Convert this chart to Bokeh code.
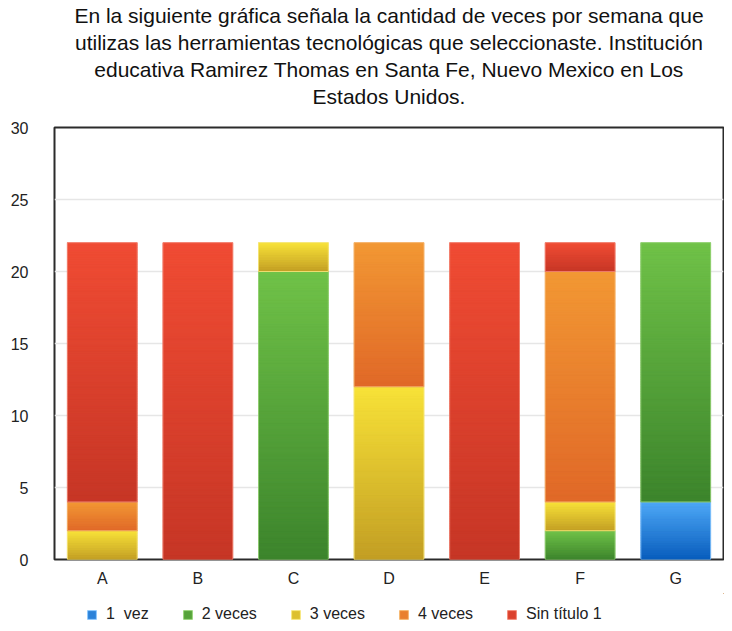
from bokeh.plotting import figure
from bokeh.models import ColumnDataSource, Legend, LegendItem, SingleIntervalTicker, Title
from bokeh.layouts import column
from bokeh.embed import file_html
from bokeh.resources import INLINE

title_lines = [
    "En la siguiente gráfica señala la cantidad de veces por semana que",
    "utilizas las herramientas tecnológicas que seleccionaste. Institución",
    "educativa Ramirez Thomas en Santa Fe, Nuevo Mexico en Los",
    "Estados Unidos.",
]
categories = ["A", "B", "C", "D", "E", "F", "G"]
series_names = ["1  vez", "2 veces", "3 veces", "4 veces", "Sin título 1"]
vez1 = [0, 0, 0, 0, 0, 0, 4]
veces2 = [0, 0, 20, 0, 0, 2, 18]
veces3 = [2, 0, 2, 12, 0, 2, 0]
veces4 = [2, 0, 0, 10, 0, 16, 0]
sin_titulo = [18, 22, 0, 0, 22, 2, 0]
series_values = [vez1, veces2, veces3, veces4, sin_titulo]

# (top colour, bottom colour, edge colour)
palette = [
    ((78, 168, 246), (8, 92, 188), "#8cc8ff"),
    ((112, 194, 72), (60, 132, 44), "#9ad67a"),
    ((248, 226, 56), (194, 158, 36), "#f8e880"),
    ((242, 152, 52), (224, 104, 40), "#f6b870"),
    ((240, 76, 52), (198, 54, 38), "#f48a78"),
]

FONT = "Liberation Sans"

p = figure(
    x_range=categories, y_range=(0, 30),
    width=724, height=593,
    output_backend="svg", toolbar_location=None,
    min_border_left=54, min_border_right=1, min_border_bottom=34, min_border_top=126,
)
p.title.visible = False

# spacer between the title block and the frame
p.add_layout(Title(text=" ", text_font=FONT, text_font_size="13px", standoff=2), "above")
for line in reversed(title_lines):
    t = Title(text=line, align="center", text_font=FONT, text_font_size="21px",
              text_font_style="normal", text_color="#111111", standoff=2)
    p.add_layout(t, "above")

bar_w = 0.73
base = [0.0] * len(categories)

def mix(c1, c2, t):
    return "#%02x%02x%02x" % tuple(int(round(a + (b - a) * t)) for a, b in zip(c1, c2))

for name, vals, (ctop, cbot, edge) in zip(series_names, series_values, palette):
    sx, sb, st = [], [], []
    gx, gb, gt, gc = [], [], [], []
    for i, v in enumerate(vals):
        b0 = base[i]
        if v > 0:
            sx.append(categories[i]); sb.append(b0); st.append(b0 + v)
            n = max(6, int(round(v * 6)))
            for k in range(n):
                lo = b0 + v * k / n
                hi = b0 + v * (k + 1) / n
                tt = (k + 0.5) / n
                gx.append(categories[i]); gb.append(lo); gt.append(hi)
                gc.append(mix(cbot, ctop, tt))
        base[i] = b0 + v
    seg = ColumnDataSource(dict(x=sx, bottom=sb, top=st))
    p.vbar(x="x", bottom="bottom", top="top", width=bar_w, source=seg,
           fill_color=mix(cbot, ctop, 0.5), line_color=None)
    strips = ColumnDataSource(dict(x=gx, bottom=gb, top=gt, color=gc))
    p.vbar(x="x", bottom="bottom", top="top", width=bar_w, source=strips,
           fill_color="color", line_color="color", line_width=0.6)
    p.vbar(x="x", bottom="bottom", top="top", width=bar_w, source=seg,
           fill_color=None, line_color=edge, line_width=1, line_alpha=0.8)

p.yaxis.ticker = SingleIntervalTicker(interval=5)
for ax in (p.xaxis, p.yaxis):
    ax.axis_line_color = None
    ax.major_tick_line_color = None
    ax.minor_tick_line_color = None
    ax.major_label_text_font = FONT
    ax.major_label_text_font_size = "16px"
    ax.major_label_text_color = "#222222"
p.xaxis.major_label_standoff = 4
p.yaxis.major_label_standoff = 20

p.xgrid.grid_line_color = None
p.ygrid.grid_line_color = "#e6e6e6"
p.ygrid.grid_line_width = 1.5
p.outline_line_color = "#2b2b2b"
p.outline_line_width = 2
p.background_fill_color = "white"
p.border_fill_color = "white"

# legend strip below the chart
pl = figure(width=724, height=30, x_range=(0, 1), y_range=(0, 1),
            x_axis_location=None, y_axis_location=None,
            output_backend="svg", toolbar_location=None,
            min_border_left=0, min_border_right=0, min_border_top=0, min_border_bottom=0)
pl.title.visible = False
pl.xgrid.grid_line_color = None
pl.ygrid.grid_line_color = None
pl.outline_line_color = None
pl.border_fill_color = "white"

legend_items = []
for name, (ctop, cbot, edge) in zip(series_names, palette):
    # legend swatch renderer, placed outside the visible range
    r = pl.vbar(x=[5], top=[5], bottom=[4], width=0.1,
                fill_color=mix(cbot, ctop, 0.5), line_color=edge)
    legend_items.append(LegendItem(label=name, renderers=[r]))

legend = Legend(items=legend_items, orientation="horizontal", location=(32, 0),
                label_text_font=FONT, label_text_font_size="16px", label_text_color="#222222",
                glyph_width=11, glyph_height=11, label_standoff=9, spacing=33,
                border_line_color=None, background_fill_alpha=0, padding=0, margin=0)
pl.add_layout(legend)

layout = column(p, pl, spacing=0)
open("out.html", "w").write(file_html(layout, INLINE))
